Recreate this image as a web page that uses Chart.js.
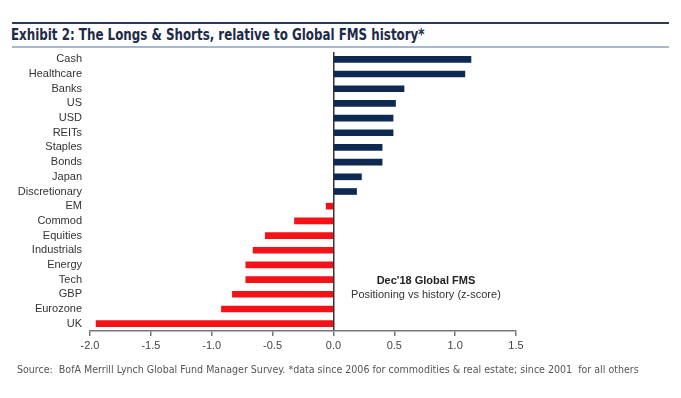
<!DOCTYPE html>
<html>
<head>
<meta charset="utf-8">
<script src="https://cdn.jsdelivr.net/npm/chart.js@4"></script>
<style>
	body { margin: 0; background: #fff; }
	#wrap { position: relative; width: 681px; height: 398px; overflow: hidden; }
	#chart { position: absolute; left: 0; top: 0; }
	.rule { position: absolute; left: 12px; width: 657px; }
	#title { position: absolute; left: 11px; top: 26px; font: bold 15px "DejaVu Sans Condensed", sans-serif; color: #1d2a48; white-space: nowrap; transform: scaleX(0.88); transform-origin: left top; }
	#source { position: absolute; left: 17px; top: 363px; font: 11px "DejaVu Sans Condensed", sans-serif; color: #555; white-space: nowrap; transform: scaleX(0.96); transform-origin: left top; }
</style>
</head>
<body>
<div id="wrap">
	<div class="rule" style="top:22px;height:2px;background:#2c3a55;"></div>
	<div id="title">Exhibit 2: The Longs &amp; Shorts, relative to Global FMS history*</div>
	<div class="rule" style="top:46px;height:2px;background:#a8b7cc;"></div>
	<canvas id="chart" width="681" height="398"></canvas>
	<div id="source">Source:&nbsp; BofA Merrill Lynch Global Fund Manager Survey. *data since 2006 for commodities &amp; real estate; since 2001&nbsp; for all others</div>
</div>
<script>
var categories = ['Cash', 'Healthcare', 'Banks', 'US', 'USD', 'REITs', 'Staples', 'Bonds', 'Japan', 'Discretionary',
	'EM', 'Commod', 'Equities', 'Industrials', 'Energy', 'Tech', 'GBP', 'Eurozone', 'UK'];
var zScores = [1.13, 1.08, 0.58, 0.51, 0.49, 0.49, 0.40, 0.40, 0.23, 0.19,
	-0.06, -0.32, -0.56, -0.66, -0.72, -0.72, -0.83, -0.92, -1.95];
var xTicks = [-2.0, -1.5, -1.0, -0.5, 0.0, 0.5, 1.0, 1.5];
var noteLines = ["Dec'18 Global FMS", 'Positioning vs history (z-score)'];

var barColors = zScores.map(function(v) {
	return v >= 0 ? '#0f2a52' : '#f41218';
});

// small plugin for the text box inside the plot
var notePlugin = {
	id: 'note',
	afterDraw: function(chart) {
		var ctx = chart.ctx;
		var x = chart.scales.x.getPixelForValue(0.76);
		var y = chart.scales.y.getPixelForValue(15.1);
		ctx.save();
		ctx.textAlign = 'center';
		ctx.textBaseline = 'middle';
		ctx.fillStyle = '#222';
		ctx.font = 'bold 11px "Liberation Sans", Arial, sans-serif';
		ctx.fillText(noteLines[0], x, y);
		ctx.fillStyle = '#333';
		ctx.font = '11px "Liberation Sans", Arial, sans-serif';
		ctx.fillText(noteLines[1], x, y + 14);
		ctx.restore();
	}
};

var ctx = document.getElementById('chart').getContext('2d');
new Chart(ctx, {
	type: 'bar',
	data: {
		labels: categories,
		datasets: [{
			data: zScores,
			backgroundColor: barColors,
			barThickness: 6
		}]
	},
	options: {
		indexAxis: 'y',
		responsive: false,
		animation: false,
		layout: { padding: { top: 52, right: 165, bottom: 47, left: 0 } },
		plugins: {
			legend: { display: false },
			tooltip: { enabled: false }
		},
		scales: {
			x: {
				min: -2,
				max: 1.5,
				afterBuildTicks: function(axis) {
					axis.ticks = xTicks.map(function(v) { return { value: v }; });
				},
				afterFit: function(axis) { axis.height = 20; },
				border: { display: true, color: '#777', width: 1.5 },
				grid: {
					drawOnChartArea: true,
					drawTicks: true,
					tickLength: 5,
					tickColor: '#777',
					lineWidth: 1.5,
					color: function(c) {
						return c.tick && c.tick.value === 0 ? '#333' : 'rgba(0,0,0,0)';
					}
				},
				ticks: {
					color: '#444',
					padding: 3,
					font: { family: '"Liberation Sans", Arial, sans-serif', size: 11 },
					callback: function(v) { return Number(v).toFixed(1); }
				}
			},
			y: {
				afterFit: function(axis) { axis.width = 90; },
				border: { display: false },
				grid: { display: false, drawTicks: false },
				ticks: {
					color: '#333',
					padding: 8,
					autoSkip: false,
					font: { family: '"Liberation Sans", Arial, sans-serif', size: 11 }
				}
			}
		}
	},
	plugins: [notePlugin]
});
</script>
</body>
</html>
